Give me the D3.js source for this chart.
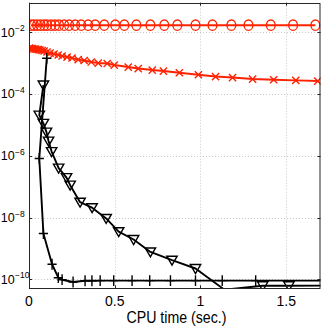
<!DOCTYPE html>
<html>
<head>
<meta charset="utf-8">
<script src="https://cdn.jsdelivr.net/npm/d3@7"></script>
<style>
  body { margin: 0; background: #fff; }
  svg { display: block; }
  text { font-family: "Liberation Sans", Arial, sans-serif; fill: #000; }
</style>
</head>
<body>
<script>
// 各系列のデータ (横: CPU時間, 縦: 誤差)
var circT = [0.012, 0.029, 0.047, 0.067, 0.088, 0.105, 0.129, 0.152, 0.175, 0.205, 0.234, 0.269, 0.304, 0.345, 0.386, 0.439, 0.503, 0.556, 0.626, 0.708, 0.789, 0.865, 0.971, 1.07, 1.18, 1.28, 1.41, 1.54, 1.67];
var circV = [1.7e-2, 1.7e-2, 1.7e-2, 1.7e-2, 1.7e-2, 1.7e-2, 1.7e-2, 1.7e-2, 1.7e-2, 1.7e-2, 1.7e-2, 1.7e-2, 1.7e-2, 1.7e-2, 1.7e-2, 1.7e-2, 1.7e-2, 1.7e-2, 1.7e-2, 1.7e-2, 1.7e-2, 1.7e-2, 1.7e-2, 1.7e-2, 1.7e-2, 1.7e-2, 1.7e-2, 1.7e-2, 1.7e-2];

var crossT = [0.003, 0.012, 0.020, 0.029, 0.038, 0.047, 0.056, 0.064, 0.076, 0.088, 0.105, 0.123, 0.146, 0.170, 0.193, 0.222, 0.251, 0.287, 0.322, 0.363, 0.404, 0.456, 0.497, 0.579, 0.637, 0.719, 0.784, 0.877, 0.988, 1.088, 1.187, 1.304, 1.427, 1.556, 1.684];
var crossV = [3.10e-3, 2.99e-3, 2.99e-3, 2.88e-3, 2.88e-3, 2.77e-3, 2.77e-3, 2.67e-3, 2.57e-3, 2.48e-3, 2.30e-3, 2.13e-3, 1.98e-3, 1.84e-3, 1.71e-3, 1.58e-3, 1.47e-3, 1.31e-3, 1.22e-3, 1.09e-3, 1.01e-3, 9.75e-4, 8.71e-4, 7.50e-4, 6.71e-4, 6.00e-4, 5.57e-4, 4.90e-4, 4.22e-4, 3.69e-4, 3.43e-4, 3.06e-4, 2.91e-4, 2.78e-4, 2.64e-4];

var triT = [0.084, 0.060, 0.084, 0.102, 0.114, 0.132, 0.173, 0.219, 0.240, 0.298, 0.368, 0.450, 0.523, 0.610, 0.708, 0.834, 0.971, 1.14, 1.363, 1.516, 1.79];
var triV = [1.96e-4, 2.08e-5, 1.12e-5, 5.86e-6, 3.0e-6, 1.37e-6, 3.99e-7, 1.96e-7, 1.12e-7, 3.15e-8, 2.09e-8, 9.35e-9, 3.49e-9, 1.95e-9, 7.7e-10, 4.16e-10, 2.24e-10, 4.6e-11, 6.2e-11, 6.2e-11, 6.3e-11];

var plusT = [0.1035, 0.060, 0.084, 0.1345, 0.171, 0.193, 0.257, 0.327, 0.367, 0.415, 0.494, 0.601, 0.704, 0.825, 0.971, 1.127, 1.322, 1.75];
var plusV = [1.44e-3, 8.2e-7, 3.05e-9, 3.08e-10, 1.13e-10, 9.7e-11, 8.2e-11, 9.0e-11, 9.0e-11, 9.1e-11, 9.1e-11, 9.1e-11, 9.1e-11, 9.1e-11, 9.1e-11, 9.1e-11, 9.1e-11, 9.1e-11];

// 目盛り
var xTicks = [0, 0.5, 1, 1.5];
var xTickLabels = ["0", "0.5", "1", "1.5"];
var yTickExp = [-2, -4, -6, -8, -10];

// 描画領域 (topはwindow.topと衝突するので別名)
var W = 327, H = 327;
var pLeft = 29, pRight = 320.5, pTop = 2.7, pBottom = 288.3;
var red = "#ff2200";

var svg = d3.select("body").append("svg")
	.attr("width", W)
	.attr("height", H);

var x = d3.scaleLinear().domain([0, 1.7]).range([pLeft, pRight]);
var y = d3.scaleLog().domain([Math.pow(10, -10.291), Math.pow(10, -1.041)]).range([pBottom, pTop]);

svg.append("clipPath").attr("id", "clip")
	.append("rect")
	.attr("x", pLeft).attr("y", pTop)
	.attr("width", pRight - pLeft).attr("height", pBottom - pTop);

// グリッド(点線)
var grid = svg.append("g").attr("stroke", "#c8c8c8").attr("stroke-width", 1).attr("stroke-dasharray", "1,2");
xTicks.slice(1).forEach(function(t){
	grid.append("line")
		.attr("x1", Math.round(x(t)) + 0.5).attr("x2", Math.round(x(t)) + 0.5)
		.attr("y1", pTop).attr("y2", pBottom);
});
yTickExp.forEach(function(e){
	var yy = Math.round(y(Math.pow(10, e))) + 0.5;
	grid.append("line")
		.attr("x1", pLeft).attr("x2", pRight)
		.attr("y1", yy).attr("y2", yy);
});

// 系列データを点の配列にまとめる
function pts(ts, vs){
	return ts.map(function(t, i){ return {t: t, v: vs[i]}; });
}
function inside(d){
	return d.t >= 0 && d.t <= 1.7 && y(d.v) <= pBottom + 0.5 && y(d.v) >= pTop - 0.5;
}

var line = d3.line()
	.x(function(d){ return x(d.t); })
	.y(function(d){ return y(d.v); });

var plot = svg.append("g").attr("clip-path", "url(#clip)");

function drawSeries(data, color, marker){
	plot.append("path")
		.datum(data)
		.attr("d", line)
		.attr("fill", "none")
		.attr("stroke", color)
		.attr("stroke-width", 1.9)
		.attr("stroke-linejoin", "round");

	plot.selectAll(null)
		.data(data.filter(inside))
		.enter().append("path")
		.attr("transform", function(d){ return "translate(" + x(d.t) + "," + y(d.v) + ")"; })
		.attr("d", marker)
		.attr("fill", "none")
		.attr("stroke", color)
		.attr("stroke-width", 1.4);
}

// マーカー形状
var mCircle = "M-4.4,0A4.4,5.2 0 1,0 4.4,0A4.4,5.2 0 1,0 -4.4,0Z";
var mCross = "M-3.6,-3.6L3.6,3.6M-3.6,3.6L3.6,-3.6";
var mTri = "M-5.2,-4L5.2,-4L0,5Z";
var mPlus = "M-4.6,0L4.6,0M0,-5.4L0,5.4";

drawSeries(pts(circT, circV), red, mCircle);
drawSeries(pts(crossT, crossV), red, mCross);
drawSeries(pts(triT, triV), "#000", mTri);
drawSeries(pts(plusT, plusV), "#000", mPlus);

// 枠と目盛り線(内向き)
var axisG = svg.append("g").attr("stroke", "#262626").attr("stroke-width", 1).attr("fill", "none");
axisG.append("rect")
	.attr("x", pLeft + 0.5).attr("y", Math.round(pTop) + 0.5)
	.attr("width", pRight - pLeft - 1).attr("height", Math.round(pBottom) - Math.round(pTop));
xTicks.forEach(function(t){
	var xx = Math.round(x(t)) + 0.5;
	axisG.append("line").attr("x1", xx).attr("x2", xx).attr("y1", pBottom).attr("y2", pBottom - 3);
	axisG.append("line").attr("x1", xx).attr("x2", xx).attr("y1", pTop).attr("y2", pTop + 3);
});
yTickExp.forEach(function(e){
	var yy = Math.round(y(Math.pow(10, e))) + 0.5;
	axisG.append("line").attr("x1", pLeft).attr("x2", pLeft + 3).attr("y1", yy).attr("y2", yy);
	axisG.append("line").attr("x1", pRight).attr("x2", pRight - 3).attr("y1", yy).attr("y2", yy);
});

// x軸ラベル
svg.selectAll(".xl")
	.data(xTicks)
	.enter().append("text")
	.attr("class", "xl")
	.attr("x", function(d){ return x(d); })
	.attr("y", 305.5)
	.attr("text-anchor", "middle")
	.style("font-size", "14px")
	.text(function(d, i){ return xTickLabels[i]; });

// y軸ラベル (10の累乗、"10"は左端に揃える)
yTickExp.forEach(function(e){
	var t = svg.append("text")
		.attr("x", 0.8)
		.attr("y", y(Math.pow(10, e)) + 4.2)
		.style("font-size", "12.5px");
	t.append("tspan").text("10");
	t.append("tspan")
		.attr("dy", -5.2)
		.attr("dx", 0.3)
		.style("font-size", "8.5px")
		.text("\u2212" + (-e));
});

svg.append("text")
	.attr("x", 176.5)
	.attr("y", 323)
	.attr("text-anchor", "middle")
	.attr("textLength", 100)
	.attr("lengthAdjust", "spacingAndGlyphs")
	.style("font-size", "16px")
	.text("CPU time (sec.)");
</script>
</body>
</html>
